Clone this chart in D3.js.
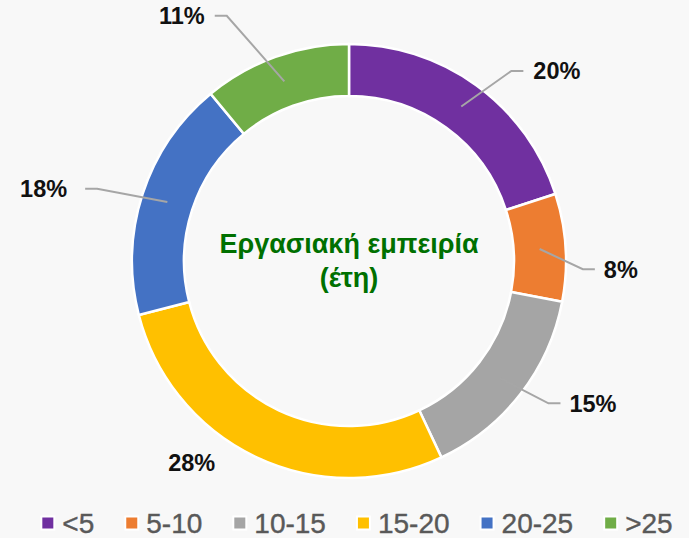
<!DOCTYPE html>
<html>
<head>
<meta charset="utf-8">
<script src="https://cdn.jsdelivr.net/npm/d3@7"></script>
<style>
  html, body { margin: 0; padding: 0; background: #f8f8f8; }
  svg { display: block; font-family: "Liberation Sans", Arial, sans-serif; }
</style>
</head>
<body>
<div id="chart"></div>
<script>
// data
const categories = ['<5', '5-10', '10-15', '15-20', '20-25', '>25'];
const values = [20, 8, 15, 28, 18, 11];
const colors = ['#7030a0', '#ed7d31', '#a5a5a5', '#ffc000', '#4472c4', '#70ad47'];
const titleLines = ['Εργασιακή εμπειρία', '(έτη)'];

// label placement tweaks (angle shift in degrees, radius of elbow, gap to text, leader line on/off)
const labelLayout = [
  { da: 4.5, r: 250, gap: 10, line: true },
  { da: 5.6, r: 234, gap: 9, line: true },
  { da: -2.3, r: 245, gap: 9, line: true },
  { da: 12.7, r: 256, gap: 0, line: false },
  { da: -2, r: 262, gap: 18, line: true },
  { da: -6.7, r: 274, gap: 10, line: true }
];

const width = 689, height = 538;
const cx = 349, cy = 261;
const outerR = 217, innerR = 165;

const svg = d3.select('#chart')
  .append('svg')
  .attr('width', width)
  .attr('height', height);

svg.append('rect')
  .attr('width', width)
  .attr('height', height)
  .attr('fill', '#f8f8f8');

const pie = d3.pie().sort(null).value(d => d);
const arcs = pie(values);
const arc = d3.arc().innerRadius(innerR).outerRadius(outerR);
const midArc = d3.arc().innerRadius((innerR + outerR) / 2).outerRadius((innerR + outerR) / 2);

const g = svg.append('g').attr('transform', `translate(${cx},${cy})`);

g.selectAll('path.slice')
  .data(arcs)
  .enter()
  .append('path')
  .attr('class', 'slice')
  .attr('d', arc)
  .attr('fill', (d, i) => colors[i])
  .attr('stroke', '#ffffff')
  .attr('stroke-width', 2.5);

// labels + leader lines
const total = d3.sum(values);
arcs.forEach((d, i) => {
  const lay = labelLayout[i];
  const mid = (d.startAngle + d.endAngle) / 2 + lay.da * Math.PI / 180;
  const ex = Math.sin(mid) * lay.r;
  const ey = -Math.cos(mid) * lay.r;
  const right = ex >= 0;
  const label = Math.round(d.value / total * 100) + '%';

  const txt = g.append('text')
    .attr('y', ey)
    .attr('dy', '0.36em')
    .attr('font-size', 23.5)
    .attr('font-weight', 'bold')
    .attr('fill', '#111111')
    .text(label);

  if (lay.line) {
    const start = midArc.centroid(d);
    const tailX = ex + (right ? 12 : -12);
    g.insert('polyline', 'text')
      .attr('points', [start, [ex, ey], [tailX, ey]].map(p => p.join(',')).join(' '))
      .attr('fill', 'none')
      .attr('stroke', '#a6a6a6')
      .attr('stroke-width', 2);
    txt.attr('x', tailX + (right ? lay.gap : -lay.gap))
      .attr('text-anchor', right ? 'start' : 'end');
  } else {
    txt.attr('x', ex).attr('text-anchor', 'middle');
  }
});

// centre title
g.selectAll('text.title')
  .data(titleLines)
  .enter()
  .append('text')
  .attr('class', 'title')
  .attr('x', 0)
  .attr('y', (d, i) => -18 + i * 34)
  .attr('dy', '0.36em')
  .attr('text-anchor', 'middle')
  .attr('font-size', 27)
  .attr('font-weight', 'bold')
  .attr('fill', '#007000')
  .text(d => d);

// legend
const legend = svg.append('g').attr('class', 'legend');
const items = legend.selectAll('g.item')
  .data(categories)
  .enter()
  .append('g')
  .attr('class', 'item');

items.append('rect')
  .attr('width', 13)
  .attr('height', 13)
  .attr('y', -6.5)
  .attr('fill', (d, i) => colors[i])
  .attr('stroke', '#ffffff')
  .attr('stroke-width', 2);

items.append('text')
  .attr('x', 21)
  .attr('dy', '0.36em')
  .attr('font-size', 28)
  .attr('fill', '#595959')
  .attr('stroke', '#595959')
  .attr('stroke-width', 0.4)
  .text(d => d);

let offset = 0;
const positions = [];
items.each(function () {
  const w = 21 + this.querySelector('text').getComputedTextLength();
  positions.push(offset);
  offset += w + 31;
});
const legendW = offset - 31;
const legendX = cx + 8 - legendW / 2;
items.attr('transform', (d, i) => `translate(${legendX + positions[i]},523)`);
</script>
</body>
</html>
